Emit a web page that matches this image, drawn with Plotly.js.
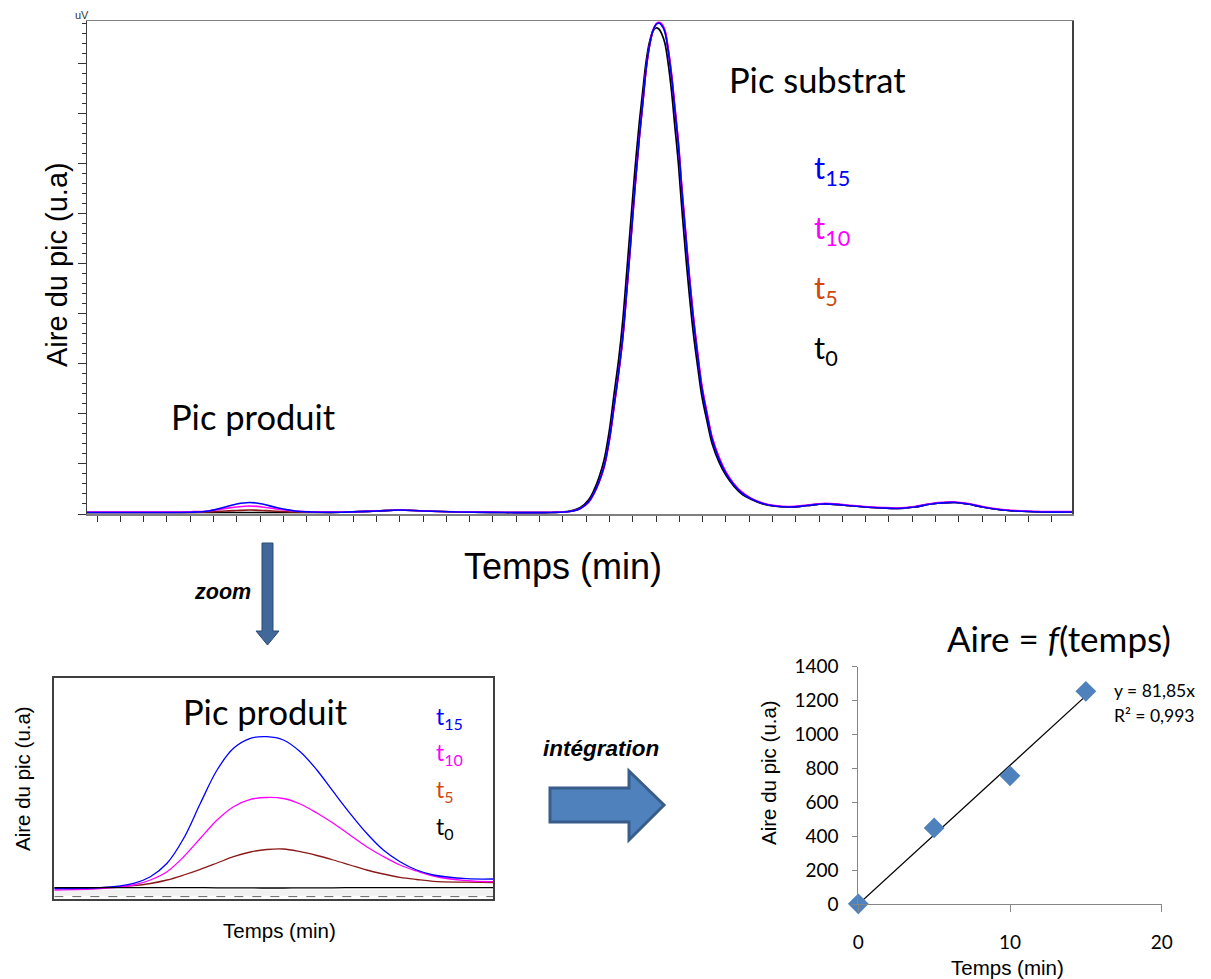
<!DOCTYPE html>
<html>
<head>
<meta charset="utf-8">
<script src="https://cdn.plot.ly/plotly-3.0.1.min.js"></script>
<style>html,body{margin:0;padding:0;background:#fff;}#chart{width:1211px;height:979px;}</style>
</head>
<body>
<div id="chart"></div>
<script>
// ---- Chromatogram (top) ----
const topTime = [-0.43, 2, 4, 4.8, 5.5, 6, 6.54, 7.1, 7.7, 8.5, 9.2, 10.5, 12, 13, 14, 15.5, 17.5, 19.5,
  20.3, 20.75, 21.1, 21.33, 21.55, 21.77, 22.0, 22.2, 22.4, 22.57, 22.75, 22.93, 23.1, 23.29, 23.45, 23.58, 23.72, 23.87, 24.0,
  24.12, 24.25, 24.38, 24.52, 24.67, 24.8, 24.96, 25.1, 25.25, 25.43, 25.61, 25.8, 25.97, 26.2, 26.41, 26.7, 26.99, 27.35, 27.71, 28.1, 28.58, 29.1, 29.74,
  30.5, 31.19, 32, 32.93, 33.7, 34.38, 35.1, 35.83, 36.85, 37.4, 38.01, 38.7, 39.45, 40.5, 41.86];
const topT15 = [3, 3, 3.5, 6, 14, 20, 23, 20, 13, 6, 4, 3.5, 6, 8, 6, 4, 3, 3,
  5, 11, 24, 41, 64, 95, 150, 217, 285, 352, 450, 554, 655, 756, 830, 891, 935, 965, 977,
  980, 975, 962, 925, 871, 810, 736, 650, 567, 470, 385, 310, 250, 195, 149, 110, 82, 58, 41, 30, 21, 16, 14,
  17, 20, 18, 14, 12, 11, 14, 20, 23, 20, 14, 9, 6, 4, 4];
const topT10 = [4, 4, 4.5, 6, 11, 14, 16, 14, 10, 6, 4.5, 4, 6, 8, 6, 4.5, 3.5, 3.5,
  5, 11, 23, 40, 63, 93, 147, 214, 282, 349, 447, 551, 652, 753, 828, 889, 934, 965, 978,
  982, 978, 966, 930, 877, 817, 743, 658, 575, 478, 392, 317, 256, 200, 153, 114, 85, 60, 43, 31, 22, 17, 15,
  18, 21, 19, 15, 13, 12, 15, 21, 24, 21, 15, 10, 7, 5, 5];
const topT5 = [3, 3, 3.2, 4, 6, 7, 8, 7, 5.5, 4, 3.5, 3.5, 6, 8, 6, 4, 3, 3,
  5, 11, 24, 41, 64, 95, 150, 217, 285, 352, 450, 554, 655, 756, 830, 891, 935, 965, 977,
  980, 976, 964, 928, 874, 814, 740, 654, 571, 474, 389, 313, 253, 197, 151, 112, 83, 59, 42, 30, 21, 16, 14,
  17, 20, 18, 14, 12, 11, 14, 20, 23, 20, 14, 9, 6, 4, 4];
const topT0 = [3, 3, 3, 3, 3, 3, 3, 3, 3, 3, 3, 3.5, 6, 8, 6, 4, 3, 3,
  6, 13, 28, 47, 73, 108, 168, 240, 310, 385, 487, 592, 690, 785, 853, 905, 942, 964, 970,
  968, 958, 940, 900, 842, 778, 700, 615, 530, 438, 358, 290, 235, 183, 140, 104, 78, 55, 39, 29, 20, 15.5, 14,
  17, 20, 18, 14, 12, 11, 14, 20, 23, 20, 14, 9, 6, 4, 4];

// ---- Zoom on product peak (bottom left) ----
const zoomTime = [0, 10.5, 18.1, 21.9, 25.7, 29.5, 33.3, 37.1, 40.85, 44.7, 48.45, 52.2, 56.05, 59.85, 63.6, 67.4, 71.2, 75, 78.8, 82.6, 86.4, 94, 100];
const zoomT15 = [9.3, 10.3, 14.7, 21.3, 34.7, 59.7, 94.7, 128, 149.7, 159.7, 161.3, 158, 146.3, 128, 106.3, 84.7, 64.7, 48, 36.3, 28, 23, 19.3, 19];
const zoomT10 = [8, 9.3, 13, 18, 26.3, 41.3, 59.7, 78, 91.3, 98.7, 100.5, 99.5, 94, 85, 74.7, 63, 51.3, 41.5, 33, 27, 22, 17.3, 16.3];
const zoomT5  = [10.3, 10.3, 12.3, 14.5, 18, 23, 28.7, 35, 41.3, 46, 48.5, 49, 46.3, 42.5, 38, 33, 28, 24, 20.7, 18.5, 16.7, 15.8, 15.3];
const zoomT0  = [10.3, 10.3, 10.3, 10.3, 10.3, 10.3, 10.3, 10.2, 10.2, 10.1, 10.0, 10.0, 10.1, 10.2, 10.2, 10.3, 10.3, 10.3, 10.3, 10.3, 10.3, 10.3, 10.3];

// ---- Area vs time (bottom right) ----
const sampleTime = [0, 5, 10, 15];
const sampleArea = [3, 450, 757, 1255];
const trendTime = [0, 15];
const trendArea = [0, 1228];
const seriesLabels = ['t<sub>15</sub>', 't<sub>10</sub>', 't<sub>5</sub>', 't<sub>0</sub>'];
const labelColors = ['#0000FF', '#FF00FF', '#D04A10', '#000000'];

const W = 1211, H = 979;
const px = v => v / W;
const py = v => 1 - v / H;
const ARIAL = 'Liberation Sans, Arial, sans-serif';
const CALI = 'Lato, Open Sans, sans-serif';

const traces = [
  {x: topTime, y: topT0, xaxis: 'x', yaxis: 'y', mode: 'lines', line: {color: '#000000', width: 1.7, shape: 'spline'}},
  {x: topTime, y: topT5, xaxis: 'x', yaxis: 'y', mode: 'lines', line: {color: '#8B1A1A', width: 1.7, shape: 'spline'}},
  {x: topTime, y: topT10, xaxis: 'x', yaxis: 'y', mode: 'lines', line: {color: '#FF00FF', width: 1.7, shape: 'spline'}},
  {x: topTime, y: topT15, xaxis: 'x', yaxis: 'y', mode: 'lines', line: {color: '#0000FF', width: 1.7, shape: 'spline'}},

  {x: zoomTime, y: zoomT5, xaxis: 'x2', yaxis: 'y2', mode: 'lines', line: {color: '#8B1A1A', width: 1.3, shape: 'spline'}},
  {x: zoomTime, y: zoomT10, xaxis: 'x2', yaxis: 'y2', mode: 'lines', line: {color: '#FF00FF', width: 1.3, shape: 'spline'}},
  {x: zoomTime, y: zoomT15, xaxis: 'x2', yaxis: 'y2', mode: 'lines', line: {color: '#0000FF', width: 1.3, shape: 'spline'}},
  {x: zoomTime, y: zoomT0, xaxis: 'x2', yaxis: 'y2', mode: 'lines', line: {color: '#000000', width: 1.3, shape: 'spline'}},

  {x: trendTime, y: trendArea, xaxis: 'x3', yaxis: 'y3', mode: 'lines', line: {color: '#000000', width: 1.3}},
  {x: sampleTime, y: sampleArea, xaxis: 'x3', yaxis: 'y3', mode: 'markers', cliponaxis: false,
   marker: {symbol: 'diamond', size: 16, color: '#4F81BD', line: {width: 0}}}
];

const annotations = [];
function txt(text, x, y, size, family, opts) {
  annotations.push(Object.assign({text: text, x: px(x), y: py(y), xref: 'paper', yref: 'paper',
    showarrow: false, xanchor: 'center', yanchor: 'middle',
    font: {size: size, family: family, color: '#000'}}, opts || {}));
}
// top chart
txt('uV', 82, 15, 11, ARIAL, {font: {size: 11, family: ARIAL, color: '#333'}});
txt('Aire du pic (u.a)', 57, 265, 29, ARIAL, {textangle: -90});
txt('Temps (min)', 563, 566, 36, ARIAL);
txt('Pic produit', 253, 416, 34.5, CALI);
txt('Pic substrat', 817, 79, 34.5, CALI);
const topLabelY = [169, 229, 290, 350];
seriesLabels.forEach((s, i) => txt(s, 812, topLabelY[i], 31, CALI, {xanchor: 'left', font: {size: 31, family: CALI, color: labelColors[i]}}));
// arrows' captions
txt('<b><i>zoom</i></b>', 222, 592, 21.5, ARIAL);
txt('<b><i>intégration</i></b>', 601, 748, 22.5, ARIAL);
// zoom chart
txt('Aire du pic (u.a)', 22, 779, 20.5, ARIAL, {textangle: -90});
txt('Temps (min)', 279, 930, 20.5, ARIAL);
txt('Pic produit', 265, 711, 34.5, CALI);
const zoomLabelY = [717, 753, 790, 827];
seriesLabels.forEach((s, i) => txt(s, 434, zoomLabelY[i], 23, CALI, {xanchor: 'left', font: {size: 23, family: CALI, color: labelColors[i]}}));
// scatter chart
txt('Aire = <i>f</i>(temps)', 1059, 638, 35, CALI);
txt('Aire du pic (u.a)', 768, 773, 20.5, ARIAL, {textangle: -90});
txt('Temps (min)', 1007, 967, 20.5, ARIAL);
txt('y = 81,85x', 1112, 690, 17.5, CALI, {xanchor: 'left'});
txt('R² = 0,993', 1112, 715, 17.5, CALI, {xanchor: 'left'});

function pathFrom(points) {
  return 'M' + points.map(p => px(p[0]).toFixed(5) + ',' + py(p[1]).toFixed(5)).join(' L') + ' Z';
}
const shapes = [
  {type: 'path', xref: 'paper', yref: 'paper',
   path: pathFrom([[262, 543], [273, 543], [273, 631], [279, 631], [267.5, 645], [256, 631], [262, 631]]),
   fillcolor: '#41689A', line: {color: '#2E4A70', width: 1}},
  {type: 'path', xref: 'paper', yref: 'paper',
   path: pathFrom([[550, 788], [629, 788], [629, 771], [664, 805], [629, 840], [629, 822], [550, 822]]),
   fillcolor: '#4F81BD', line: {color: '#385D8A', width: 3}},
  // dashed baseline strip at the bottom of the zoom frame
  {type: 'line', xref: 'x2', yref: 'y2', x0: 0, x1: 100, y0: 1.4, y1: 1.4,
   line: {color: '#666', width: 1, dash: 'dash'}},
  {type: 'rect', xref: 'x2', yref: 'y2', x0: 0, x1: 100, y0: 2.2, y1: 8.2,
   fillcolor: 'rgba(200,200,200,0.25)', line: {width: 0}, layer: 'below'}
];

const layout = {
  width: W, height: H,
  margin: {l: 0, r: 0, t: 0, b: 0},
  paper_bgcolor: '#fff', plot_bgcolor: 'rgba(0,0,0,0)',
  showlegend: false,
  xaxis: {domain: [px(87), px(1072)], range: [-0.43, 41.86], anchor: 'y',
    tickmode: 'linear', tick0: 0, dtick: 1, ticks: 'outside', ticklen: 6, tickwidth: 1, tickcolor: '#333',
    showticklabels: false, showgrid: false, zeroline: false,
    showline: true, linecolor: '#808080', linewidth: 1.5, mirror: true},
  yaxis: {domain: [py(514), py(21.3)], range: [0, 983.4], anchor: 'x',
    tickmode: 'linear', tick0: 0, dtick: 100, ticks: 'outside', ticklen: 8, tickwidth: 1, tickcolor: '#333',
    minor: {tickmode: 'linear', tick0: 0, dtick: 20, ticks: 'outside', ticklen: 4, tickcolor: '#333', showgrid: false},
    showticklabels: false, showgrid: false, zeroline: false,
    showline: true, linecolor: '#404040', linewidth: 1.5, mirror: true},
  xaxis2: {domain: [px(54.3), px(493)], range: [0, 100], anchor: 'y2',
    showticklabels: false, ticks: '', showgrid: false, zeroline: false,
    showline: true, linecolor: '#404040', linewidth: 2, mirror: true},
  yaxis2: {domain: [py(898.5), py(678)], range: [-0.5, 220], anchor: 'x2',
    showticklabels: false, ticks: '', showgrid: false, zeroline: false,
    showline: true, linecolor: '#404040', linewidth: 2, mirror: true},
  xaxis3: {domain: [px(858.3), px(1161.7)], range: [0, 20], anchor: 'y3',
    tickmode: 'linear', tick0: 0, dtick: 10, ticks: 'outside', ticklen: 7, tickcolor: '#868686',
    ticklabelstandoff: 14,
    tickfont: {family: CALI, size: 19, color: '#000'},
    showgrid: false, zeroline: false, showline: true, linecolor: '#868686', linewidth: 1},
  yaxis3: {domain: [py(904.3), py(666.7)], range: [0, 1400], anchor: 'x3',
    tickmode: 'linear', tick0: 0, dtick: 200, ticks: 'outside', ticklen: 5, tickcolor: '#868686',
    ticklabelstandoff: 10,
    tickfont: {family: CALI, size: 19, color: '#000'},
    showgrid: false, zeroline: false, showline: true, linecolor: '#868686', linewidth: 1},
  annotations: annotations,
  shapes: shapes
};

Plotly.newPlot('chart', traces, layout, {staticPlot: true, displayModeBar: false});
</script>
</body>
</html>
